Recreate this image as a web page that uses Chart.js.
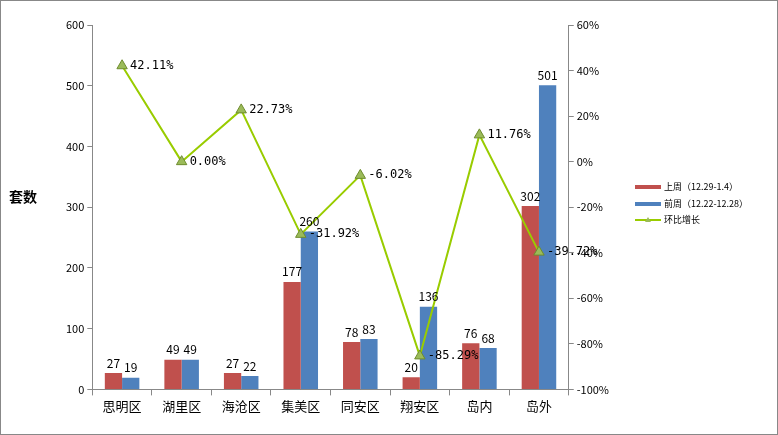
<!DOCTYPE html>
<html><head><meta charset="utf-8">
<script src="https://cdn.jsdelivr.net/npm/chart.js@4"></script>
<style>html,body{margin:0;padding:0;background:#fff}#w{width:776px;height:433px;border:1px solid #888;position:relative}</style>
</head><body><div id="w"><canvas id="c" width="776" height="433"></canvas></div>
<script>
const categories=['思明区','湖里区','海沧区','集美区','同安区','翔安区','岛内','岛外'];
const lastWeek=[27,49,27,177,78,20,76,302];
const prevWeek=[19,49,22,260,83,136,68,501];
const growth=[42.11,0.00,22.73,-31.92,-6.02,-85.29,11.76,-39.72];
const seriesNames=['上周（12.29-1.4）','前周（12.22-12.28）','环比增长'];
const F='"Noto Sans CJK SC","DejaVu Sans",sans-serif';
const labelPlugin={id:'lbl',afterDatasetsDraw(ch){
  const ctx=ch.ctx;ctx.save();ctx.fillStyle='#000';ctx.font='12px '+F;
  [0,1].forEach(di=>{const m=ch.getDatasetMeta(di);ctx.textAlign='center';ctx.textBaseline='bottom';
    m.data.forEach((b,i)=>ctx.fillText(ch.data.datasets[di].data[i],b.x,b.y-4));});
  const m=ch.getDatasetMeta(2);ctx.textAlign='left';ctx.textBaseline='middle';ctx.font='12px "DejaVu Sans Mono",monospace';
  m.data.forEach((p,i)=>ctx.fillText(growth[i].toFixed(2)+'%',p.x+8,p.y));
  const lx=634,ly=[186,203,219];ctx.font='9px '+F;
  ch.data.datasets.forEach((d,i)=>{
    if(i<2){ctx.fillStyle=d.backgroundColor;ctx.fillRect(lx,ly[i]-2,26,4);}
    else{ctx.strokeStyle=d.borderColor;ctx.lineWidth=2;ctx.beginPath();ctx.moveTo(lx,ly[i]);ctx.lineTo(lx+26,ly[i]);ctx.stroke();
      ctx.fillStyle='#9BBB59';ctx.beginPath();ctx.moveTo(lx+13,ly[i]-3);ctx.lineTo(lx+16,ly[i]+2);ctx.lineTo(lx+10,ly[i]+2);ctx.fill();}
    ctx.fillStyle='#000';ctx.fillText(d.label,lx+29,ly[i]);});
  ctx.font='bold 14px '+F;ctx.textAlign='center';ctx.fillText('套数',22,196);
  ctx.restore();}};
new Chart(document.getElementById('c'),{
  data:{labels:categories,datasets:[
    {type:'bar',label:seriesNames[0],data:lastWeek,backgroundColor:'#C0504D',yAxisID:'y',categoryPercentage:0.58,barPercentage:1,order:2},
    {type:'bar',label:seriesNames[1],data:prevWeek,backgroundColor:'#4F81BD',yAxisID:'y',categoryPercentage:0.58,barPercentage:1,order:2},
    {type:'line',label:seriesNames[2],data:growth,borderColor:'#99CC00',borderWidth:2,pointStyle:'triangle',pointRadius:6,pointBackgroundColor:'#9BBB59',pointBorderColor:'#6E8C2E',pointBorderWidth:1,yAxisID:'y1',order:1}
  ]},
  options:{responsive:false,animation:false,devicePixelRatio:1,
    layout:{padding:{left:62,right:165,top:24,bottom:17}},
    plugins:{legend:{display:false},tooltip:{enabled:false}},
    scales:{
      x:{grid:{display:true,drawOnChartArea:false,color:'#888',tickLength:6,offset:true},border:{color:'#888'},ticks:{color:'#000',font:{size:13,family:F}}},
      y:{min:0,max:600,ticks:{stepSize:100,color:'#000',font:{size:11,family:F}},grid:{drawOnChartArea:false,color:'#888',tickLength:5},border:{color:'#888'}},
      y1:{position:'right',min:-100,max:60,ticks:{stepSize:20,color:'#000',font:{size:11,family:F},callback:v=>v+'%'},grid:{drawOnChartArea:false,color:'#888',tickLength:5},border:{color:'#888'}}
    }},
  plugins:[labelPlugin]
});
</script></body></html>
